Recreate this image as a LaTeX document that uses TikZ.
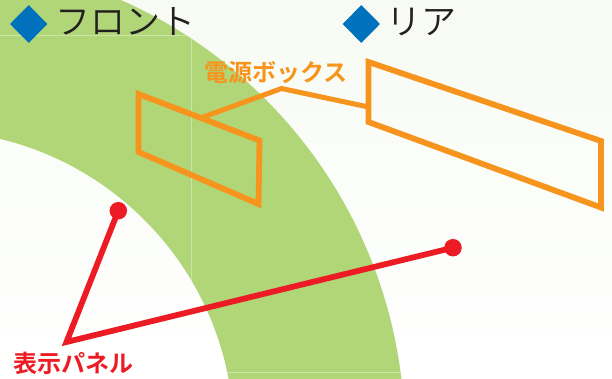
\documentclass[tikz,border=0pt]{standalone}
\usepackage{fontspec}
\setmainfont{Noto Sans CJK JP}
\newfontfamily\jplight{Noto Sans CJK JP DemiLight}
\newfontfamily\jpbold{Noto Sans CJK JP Bold}
\usetikzlibrary{shapes.geometric}
\definecolor{ringgreen}{HTML}{B0D678}
\definecolor{boxorange}{HTML}{F7941D}
\definecolor{panelred}{HTML}{ED1C24}
\definecolor{markblue}{HTML}{0071BC}
\definecolor{inkblack}{HTML}{231F20}
\definecolor{paper}{HTML}{F7FBF3}
\tikzset{
  boxline/.style={draw=boxorange,line width=5.8pt,miter limit=10,line join=miter},
  leaderline/.style={draw=boxorange,line width=5pt,line join=miter},
  redline/.style={draw=panelred,line width=5.8pt,line join=miter,miter limit=10},
  reddot/.style={circle,fill=panelred,minimum size=17.5pt,inner sep=0pt},
  bluemark/.style={diamond,fill=markblue,minimum width=37.5pt,minimum height=38pt,inner sep=0pt},
  headtext/.style={text=inkblack,font=\jplight\fontsize{35}{35}\selectfont,anchor=west,inner sep=0pt},
  orangetext/.style={text=boxorange,font=\jpbold\fontsize{24}{24}\selectfont,inner sep=0pt},
  redtext/.style={text=panelred,font=\jpbold\fontsize{24}{24}\selectfont,inner sep=0pt},
  faint/.style={draw=white,draw opacity=.35,line width=.8pt}
}
\begin{document}
\begin{tikzpicture}[x=1pt,y=-1pt]
\useasboundingbox (0,0) rectangle (612,379);
\shade[shading=axis,shading angle=20,top color=paper,bottom color=white] (0,0) rectangle (612,379);
% green ring
\begin{scope}
  \clip (0,0) rectangle (612,379);
  \fill[ringgreen,even odd rule] (-71.7,436) circle[radius=476.5] (-71.7,436) circle[radius=305.6];
  \begin{scope}[even odd rule]
    \clip (-71.7,436) circle[radius=476.5] (-71.7,436) circle[radius=305.6];
    \draw[faint] (0,35) -- (250,35);
    \draw[faint] (191,0) -- (191,379);
    \draw[faint] (200,372) -- (420,372);
  \end{scope}
\end{scope}
% headings
\node[bluemark] (frontmark) at (28.7,24) {};
\node[headtext] (fronttext) at (55,22) {フロント};
\node[bluemark] (rearmark) at (361.3,24) {};
\node[headtext] (reartext) at (386,22) {リア};
% power boxes
\coordinate (fa) at (138.5,94);
\coordinate (fb) at (259.5,140.5);
\coordinate (fc) at (258.5,204);
\coordinate (fd) at (138.5,152);
\coordinate (ra) at (368.5,62);
\coordinate (rb) at (601,141);
\coordinate (rc) at (601,207.5);
\coordinate (rd) at (368.5,122);
\coordinate (leadfront) at (202,117.5);
\coordinate (leadbend) at (281.5,88.5);
\coordinate (leadrear) at (368.5,107);
\draw[leaderline] (leadfront) -- (leadbend) -- (leadrear);
\draw[boxline] (fa) -- (fb) -- (fc) -- (fd) -- cycle;
\draw[boxline] (ra) -- (rb) -- (rc) -- (rd) -- cycle;
\node[orangetext] (powerlabel) at (276,72) {電源ボックス};
% display panel
\node[reddot] (dotfront) at (118.3,210.7) {};
\node[reddot] (dotrear) at (453,247.7) {};
\coordinate (apex) at (66.5,342);
\draw[redline] (dotfront.center) -- (apex) -- (dotrear.center);
\node[redtext] (panellabel) at (73,363) {表示パネル};
\end{tikzpicture}
\end{document}
